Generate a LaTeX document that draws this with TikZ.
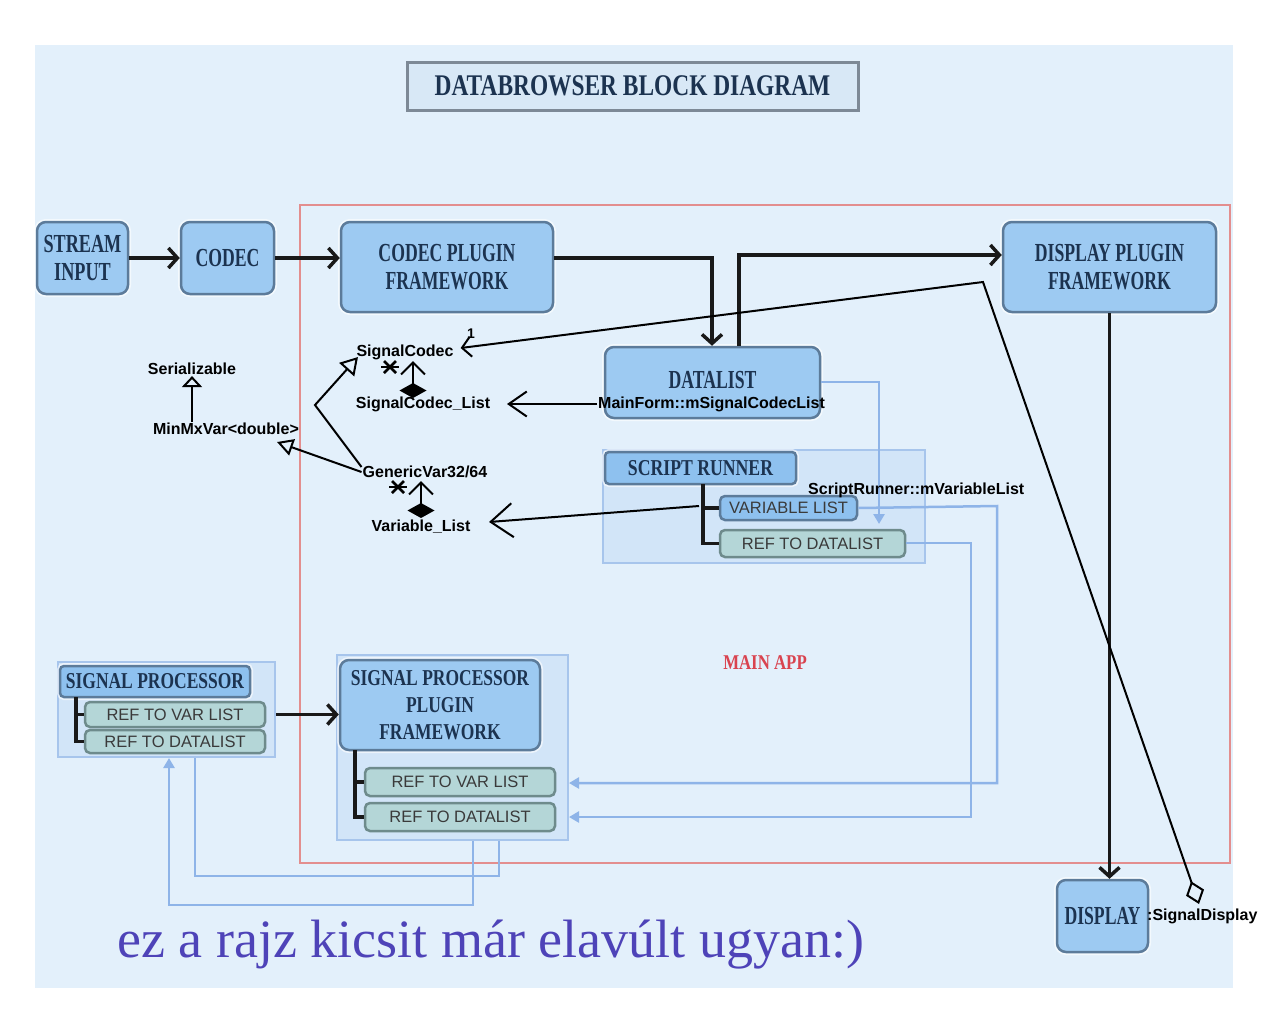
\documentclass[tikz,border=0pt]{standalone}
\usepackage{fontspec}
\usepackage{graphicx}
\setmainfont{Liberation Serif}
\setsansfont{Liberation Sans}
\usetikzlibrary{arrows.meta}
\definecolor{panel}{HTML}{E3F0FB}
\definecolor{bfill}{HTML}{9DCAF2}
\definecolor{hfill}{HTML}{8EC1EF}
\definecolor{bdr}{HTML}{5C7B9A}
\definecolor{btext}{HTML}{1C3350}
\definecolor{rfill}{HTML}{B4D6D7}
\definecolor{rbdr}{HTML}{6E8B8C}
\definecolor{rtext}{HTML}{3A3A3A}
\definecolor{cfill}{HTML}{CCE1F7}
\definecolor{cbdr}{HTML}{A7C5EC}
\definecolor{lcol}{HTML}{8EB4E8}
\definecolor{redbox}{HTML}{E38E8E}
\definecolor{mainred}{HTML}{D9434F}
\definecolor{purp}{HTML}{4E43B8}
\definecolor{ttlfill}{HTML}{D8E8F6}
\definecolor{ttlbdr}{HTML}{7D8996}
\newcommand\bl[2][0.68]{\scalebox{#1}[1]{#2}}
\begin{document}
\begin{tikzpicture}[x=1pt,y=-1pt,
 blk/.style={draw=bdr,line width=2.5pt,fill=bfill,rounded corners=9pt,inner sep=0pt,align=center,text=btext,
   font=\fontsize{26}{28}\selectfont\bfseries,preaction={draw=white,line width=6pt,opacity=0.6}},
 hdr/.style={blk,fill=hfill,rounded corners=4pt,font=\fontsize{22.7}{27}\selectfont\bfseries},
 refbox/.style={draw=rbdr,line width=2.5pt,fill=rfill,rounded corners=5pt,inner sep=0pt,text=rtext,
   font=\sffamily\fontsize{16.5}{18}\selectfont},
 cont/.style={draw=cbdr,line width=2pt,fill=cfill,fill opacity=0.7,inner sep=0pt},
 uml/.style={draw=black,line width=2pt},
 umltxt/.style={font=\sffamily\bfseries\fontsize{16}{18}\selectfont,inner sep=1pt,text=black},
 arr/.style={draw=black!90,line width=3.5pt,-{Straight Barb[length=9pt,width=20pt]}},
 tree/.style={draw=black!90,line width=3.5pt},
 lc/.style={draw=lcol,line width=2.5pt},
 lca/.style={lc,-{Triangle[length=10pt,width=11pt]}},
 star/.style={draw=black,line width=2.5pt}
]
\useasboundingbox (0,0) rectangle (1268,1018);
\fill[white] (0,0) rectangle (1268,1018);
\fill[panel] (35,45) rectangle (1233,988);

% title
\node[draw=ttlbdr,line width=3pt,fill=ttlfill,minimum width=451pt,minimum height=48pt,inner sep=0pt,
  text=btext,font=\fontsize{30}{30}\selectfont\bfseries] (ttl) at (632.5,86) {\bl[0.78]{DATABROWSER BLOCK DIAGRAM}};

% main app frame
\draw[redbox,line width=2.5pt] (300,205) rectangle (1230,863);
\node[text=mainred,font=\fontsize{21}{21}\selectfont\bfseries,inner sep=0pt] (mainapp) at (765,663) {\bl[0.8]{MAIN APP}};

% containers
\node[cont,minimum width=322pt,minimum height=113pt] (srbox) at (764,506.5) {};
\node[cont,minimum width=217pt,minimum height=95pt] (spbox) at (166.5,709.5) {};
\node[cont,minimum width=231pt,minimum height=185pt] (ppbox) at (452.5,747.5) {};

% light blue connectors
\coordinate (k1) at (879,382); \coordinate (k2) at (879,524);
\coordinate (k3) at (997,506); \coordinate (k4) at (997,783);
\coordinate (k5) at (971,543); \coordinate (k6) at (971,817);
\coordinate (k7) at (473,905); \coordinate (k8) at (169,905);
\coordinate (k9) at (499,876); \coordinate (k10) at (195,876);

% blocks
\node[blk,minimum width=91pt,minimum height=72pt] (sin) at (82.5,258) {\bl[0.7]{STREAM}\\\bl[0.7]{INPUT}};
\node[blk,minimum width=93pt,minimum height=72pt] (codec) at (227.5,258) {\bl{CODEC}};
\node[blk,minimum width=212pt,minimum height=90pt] (cpf) at (447,267) {\bl{CODEC PLUGIN}\\\bl{FRAMEWORK}};
\node[blk,minimum width=213pt,minimum height=90pt] (dpf) at (1109.5,267) {\bl{DISPLAY PLUGIN}\\\bl{FRAMEWORK}};
\node[blk,minimum width=215pt,minimum height=71pt] (dl) at (712.5,382.5) {\raisebox{5pt}{\bl{DATALIST}}};
\node[hdr,minimum width=191pt,minimum height=32pt] (srhead) at (700.5,468) {\bl[0.78]{SCRIPT RUNNER}};
\node[refbox,fill=hfill,draw=bdr,minimum width=137pt,minimum height=24pt] (varlist) at (788.5,508) {VARIABLE LIST};
\node[refbox,minimum width=185pt,minimum height=27pt] (srref) at (812.5,543.5) {REF TO DATALIST};
\node[hdr,minimum width=190pt,minimum height=31pt] (sphead) at (155,681.5) {\bl[0.77]{SIGNAL PROCESSOR}};
\node[refbox,minimum width=180pt,minimum height=25pt] (sprefvar) at (175,714.5) {REF TO VAR LIST};
\node[refbox,minimum width=180pt,minimum height=23pt] (sprefdl) at (175,741.5) {REF TO DATALIST};
\node[blk,font=\fontsize{22.7}{27}\selectfont\bfseries,minimum width=200pt,minimum height=90pt] (sppf) at (440,705)
  {\bl[0.77]{SIGNAL PROCESSOR}\\\bl[0.77]{PLUGIN}\\\bl[0.77]{FRAMEWORK}};
\node[refbox,minimum width=190pt,minimum height=28pt] (pprefvar) at (460,782) {REF TO VAR LIST};
\node[refbox,minimum width=190pt,minimum height=28pt] (pprefdl) at (460,817) {REF TO DATALIST};
\node[blk,minimum width=91pt,minimum height=72pt] (disp) at (1102.5,916) {\bl{DISPLAY}};

% light connectors
\draw[lca] (dl.east |- k1) -- (k1) -- (k2);
\draw[lca] (varlist.east) -- (k3) -- (k4) -- (k4 -| ppbox.east);
\draw[lca] (srref.east |- k5) -- (k5) -- (k6) -- (k6 -| ppbox.east);
\draw[lca] (ppbox.south -| k7) -- (k7) -- (k8) -- (k8 |- spbox.south);
\draw[lc] (ppbox.south -| k9) -- (k9) -- (k10) -- (k10 |- spbox.south);

% tree lines
\coordinate (t1) at (703,484); \coordinate (t2) at (76,697); \coordinate (t3) at (355,750);
\draw[tree] (t1) -- (t1 |- srref) -- (srref.west);
\draw[tree] (t1 |- varlist) -- (varlist.west);
\draw[tree] (t2) -- (t2 |- sprefdl) -- (sprefdl.west);
\draw[tree] (t2 |- sprefvar) -- (sprefvar.west);
\draw[tree] (t3) -- (t3 |- pprefdl) -- (pprefdl.west);
\draw[tree] (t3 |- pprefvar) -- (pprefvar.west);

% black flow arrows
\coordinate (c1) at (712,258); \coordinate (c2) at (739,255);
\draw[arr] (sin) -- (codec);
\draw[arr] (codec.east) -- (codec.east -| cpf.west);
\draw[arr] (cpf.east |- c1) -- (c1) -- (c1 |- dl.north);
\draw[arr] (c2 |- dl.north) -- (c2) -- (c2 -| dpf.west);
\draw[arr] (dpf.south) -- (dpf.south |- disp.north);
\draw[arr] (spbox.east |- sprefvar) -- (sprefvar -| sppf.west);

% UML annotation texts
\node[umltxt] (ser) at (192,369) {Serializable};
\node[umltxt] (mmv) at (226,429) {MinMxVar<double>};
\node[umltxt] (sc) at (405,352) {SignalCodec};
\node[umltxt] (scl) at (423,404) {SignalCodec\_List};
\node[umltxt] (gv) at (425,472) {GenericVar32/64};
\node[umltxt] (vl) at (421,527) {Variable\_List};
\node[umltxt,anchor=west] (mf) at (597,404) {MainForm::mSignalCodecList};
\node[umltxt,anchor=west] (srv) at (807,490) {ScriptRunner::mVariableList};
\node[umltxt,anchor=west] (sd) at (1146,916) {:SignalDisplay};
\node[umltxt,font=\sffamily\bfseries\fontsize{14}{14}\selectfont] (one) at (471,334) {1};

% UML connectors
\coordinate (bend1) at (983,282); \coordinate (sdp) at (1199,904);
\draw[uml,{Diamond[open,length=24pt,width=19pt]}-{Straight Barb[length=9pt,width=20pt]}]
  (sdp) -- (bend1) -- ([xshift=6pt,yshift=4pt]sc.east);
\coordinate (cd1) at (413,398); \coordinate (cd2) at (413,361);
\draw[uml,{Diamond[length=15pt,width=27pt]}-{Straight Barb[length=12pt,width=24pt]}] (cd1) -- (cd2);
\coordinate (cd3) at (421,518); \coordinate (cd4) at (421,481);
\draw[uml,{Diamond[length=15pt,width=27pt]}-{Straight Barb[length=12pt,width=24pt]}] (cd3) -- (cd4);
\coordinate (mft) at (507,404);
\draw[uml,-{Straight Barb[length=18pt,width=25pt]}] (mf.west) -- (mft);
\coordinate (vls) at (699,506); \coordinate (vlt) at (489,522);
\draw[uml,-{Straight Barb[length=22pt,width=34pt]}] (vls) -- (vlt);
\coordinate (ih1) at (315,405); \coordinate (ih2) at (358,357);
\draw[uml,-{Triangle[open,length=17pt,width=20pt]}] ([yshift=5pt]gv.west) -- (ih1) -- (ih2);
\coordinate (ih3) at (277,442);
\draw[uml,-{Triangle[open,length=16pt,width=17pt]}] (gv.west) -- (ih3);
\draw[uml,-{Triangle[open,length=11pt,width=20pt]}] (ser.south |- mmv.north) -- (ser.south);

% multiplicity stars
\foreach \sx/\sy in {390/367, 398/487}{
  \draw[star] (\sx-9,\sy) -- (\sx+9,\sy);
  \draw[star] (\sx-6,\sy-6) -- (\sx+6,\sy+6);
  \draw[star] (\sx-6,\sy+6) -- (\sx+6,\sy-6);
}

% footnote
\node[anchor=base west,inner sep=0pt,text=purp,font=\fontsize{54}{54}\selectfont] (note) at (117,957)
  {ez a rajz kicsit már elavúlt ugyan:)};
\end{tikzpicture}
\end{document}
